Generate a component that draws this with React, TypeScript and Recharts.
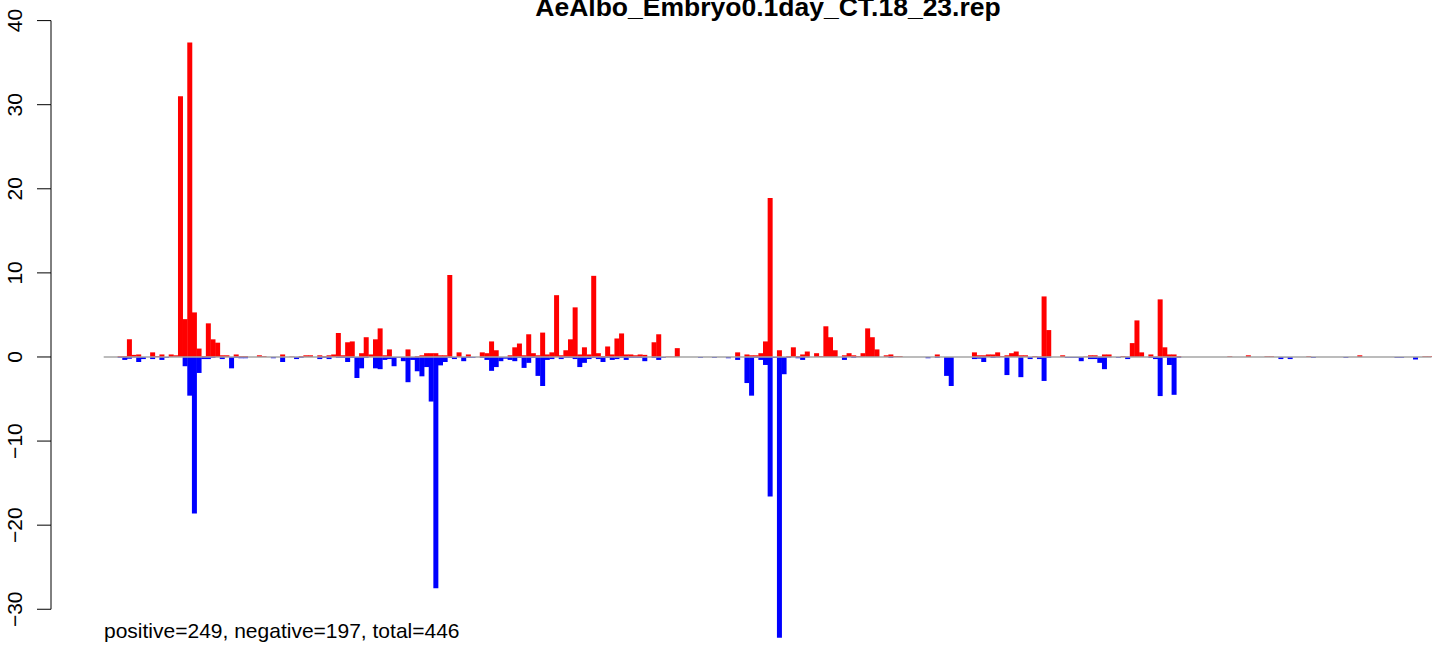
import { BarChart, Bar, XAxis, YAxis, ReferenceLine } from 'recharts';

// positive (red) and negative (blue) value per position
const pos = [
  0, 0, 0, 0.1, 0.1, 2.1, 0.25, 0.3, 0, 0,
  0.55, 0.1, 0.3, 0, 0.3, 0.2, 31, 4.5, 37.4, 5.3,
  1.0, 0.1, 4.0, 2.1, 1.7, 0.2, 0.2, 0, 0.3, 0.1,
  0.1, 0, 0, 0.2, 0.1, 0, 0, 0, 0.3, 0,
  0.05, 0, 0.1, 0.2, 0.2, 0, 0.2, 0.1, 0.2, 0.3,
  2.85, 0.2, 1.75, 1.85, 0, 0.45, 2.35, 0.3, 2.1, 3.4,
  0.2, 0.9, 0, 0, 0, 0.9, 0, 0.1, 0.2, 0.45,
  0.45, 0.45, 0.2, 0.2, 9.75, 0, 0.55, 0, 0.3, 0,
  0, 0.55, 0.45, 1.85, 0.8, 0, 0, 0.2, 1.15, 1.6,
  0.2, 2.7, 0.45, 0.2, 2.9, 0.3, 0.55, 7.35, 0.2, 0.8,
  2.1, 5.9, 0.3, 1.15, 0.3, 9.65, 0.45, 0.1, 1.25, 0.3,
  2.2, 2.8, 0.3, 0.3, 0.2, 0.3, 0.25, 0, 1.75, 2.7,
  0, 0.05, 0.05, 1.05, 0, 0, 0, 0, 0, 0,
  0, 0, 0, 0, 0, 0, 0.55, 0, 0.3, 0.2,
  0.2, 0.45, 1.85, 18.9, 0, 0.8, 0, 0.1, 1.15, 0.1,
  0.3, 0.65, 0, 0.45, 0.1, 3.65, 2.35, 0.8, 0, 0.2,
  0.45, 0.2, 0.1, 0.45, 3.4, 2.35, 0.9, 0, 0.2, 0.3,
  0.1, 0.1, 0, 0, 0, 0, 0, 0, 0, 0.3,
  0, 0, 0, 0, 0, 0, 0, 0.55, 0.2, 0.2,
  0.3, 0.3, 0.55, 0.1, 0.2, 0.45, 0.65, 0.2, 0.2, 0,
  0.1, 0.05, 7.2, 3.2, 0, 0, 0.2, 0, 0, 0,
  0, 0.05, 0.2, 0.2, 0.05, 0.3, 0.3, 0, 0, 0.1,
  0.05, 1.65, 4.35, 0.55, 0, 0.3, 0.05, 6.85, 1.15, 0.3,
  0.3, 0.1, 0, 0, 0, 0, 0, 0, 0, 0,
  0, 0, 0.08, 0, 0, 0, 0.2, 0, 0, 0,
  0.08, 0.08, 0, 0, 0, 0, 0, 0, 0, 0.08,
  0, 0, 0, 0, 0, 0, 0, 0, 0, 0,
  0.2, 0, 0, 0, 0, 0, 0, 0, 0, 0,
  0, 0, 0, 0, 0.08, 0.08,
];

const neg = [
  0, 0, 0, -0.1, -0.35, -0.2, -0.05, -0.6, -0.25, 0,
  -0.25, 0, -0.35, -0.1, 0, 0, 0, -1.1, -4.6, -18.6,
  -1.9, -0.25, -0.25, -0.1, 0, -0.25, 0, -1.35, -0.1, -0.15,
  -0.15, 0, 0, 0, 0, 0, -0.15, 0, -0.6, 0,
  0, -0.25, -0.1, 0, 0, 0, -0.25, -0.1, -0.25, 0,
  -0.1, -0.1, -0.6, -0.1, -2.5, -1.35, -0.1, 0, -1.35, -1.45,
  -0.35, -0.25, -1.1, -0.1, -0.5, -3.0, -0.35, -1.7, -2.3, -1.2,
  -5.3, -27.5, -1.0, -0.6, -0.1, -0.25, 0, -0.5, -0.1, -0.1,
  0, -0.1, -0.35, -1.65, -1.2, -0.5, -0.2, -0.35, -0.5, -0.1,
  -1.3, -0.7, -0.1, -2.25, -3.45, -0.35, -0.25, 0, -0.25, -0.1,
  -0.1, -0.25, -1.2, -0.7, -0.25, -0.1, -0.25, -0.6, -0.1, -0.35,
  -0.25, -0.1, -0.35, -0.1, -0.1, -0.1, -0.5, 0, -0.1, -0.35,
  -0.1, 0, 0, 0, 0, 0, 0, 0, -0.1, 0,
  0, -0.1, 0, 0, -0.15, 0, -0.35, 0, -3.1, -4.6,
  -0.1, -0.35, -0.95, -16.6, -0.1, -33.4, -2.05, -0.1, 0, -0.15,
  -0.35, -0.05, 0, 0, 0, 0, 0, 0, 0, -0.35,
  0, -0.1, 0, 0, 0, 0, 0, 0, 0, -0.1,
  0, 0, 0, 0, 0, 0, 0, -0.15, 0, -0.1,
  0, -2.25, -3.45, 0, 0, 0, 0, -0.25, -0.2, -0.6,
  0, -0.1, -0.05, 0, -2.15, 0, 0, -2.4, 0, -0.25,
  0, -0.25, -2.85, -0.1, 0, 0, 0, -0.1, -0.1, -0.1,
  -0.5, 0, -0.25, -0.25, -0.7, -1.45, -0.05, 0, -0.1, 0,
  -0.25, 0, 0, 0, 0, -0.1, -0.25, -4.65, -0.05, -0.95,
  -4.5, -0.1, 0, 0, 0, 0, 0, 0, 0, 0,
  0, 0, 0, 0, 0, 0, 0, 0, 0, 0,
  0, 0, 0, -0.25, -0.05, -0.25, 0, 0, 0, 0,
  -0.1, 0, 0, 0, 0, 0, 0, -0.1, 0, 0,
  0, 0, 0, 0, 0, 0, 0, 0, -0.1, -0.1,
  0, 0, -0.3, 0, 0, 0,
];

const yTicks = [-30, -20, -10, 0, 10, 20, 30, 40];
const title = 'AeAlbo_Embryo0.1day_CT.18_23.rep';
const footer = 'positive=249, negative=197, total=446';

const W = 1433;
const H = 645;
const Y_MIN = -34.25;
const Y_MAX = 42.45;
const AXIS_W = 103.7;
const FONT = '"Liberation Sans", Arial, Helvetica, sans-serif';

const data = pos.map((p, i) => ({ position: i + 1, up: p, down: neg[i] }));

function YTick(props: any) {
  const { y, payload } = props;
  const step = (H * 10) / (Y_MAX - Y_MIN);
  const v = payload.value;
  const label = v < 0 ? '\u2212' + Math.abs(v) : String(v);
  return (
    <g>
      <line x1={37} x2={51} y1={y} y2={y} stroke="#000" strokeWidth={1} />
      {v > yTicks[0] && <line x1={51} x2={51} y1={y} y2={y + step} stroke="#000" strokeWidth={1} />}
      <text x={22} y={y} transform={`rotate(-90 22 ${y})`} textAnchor="middle"
        fontSize={21} fontFamily={FONT} fill="#000">{label}</text>
    </g>
  );
}

export default function App() {
  return (
    <div style={{ position: 'absolute', left: 0, top: 0, width: W, height: H, background: '#fff' }}>
      <BarChart width={W} height={H} data={data} stackOffset="sign" barCategoryGap={0} barGap={0}
        margin={{ top: 0, right: 1.4, bottom: 0, left: 0 }}>
        <XAxis dataKey="position" hide />
        <YAxis type="number" domain={[Y_MIN, Y_MAX]} allowDataOverflow ticks={yTicks} width={AXIS_W}
          axisLine={false} tickLine={false} tick={(p: any) => <YTick {...p} />} />
        <ReferenceLine y={0} stroke="#a6a6a6" strokeWidth={1.5} />
        <Bar dataKey="up" stackId="s" fill="#ff0000" isAnimationActive={false} />
        <Bar dataKey="down" stackId="s" fill="#0000ff" isAnimationActive={false} />
      </BarChart>
      <svg width={W} height={H} style={{ position: 'absolute', left: 0, top: 0, pointerEvents: 'none' }}>
        <text x={768} y={16} textAnchor="middle" fontSize={26.5} fontWeight="bold" fontFamily={FONT}>{title}</text>
        <text x={104} y={638} fontSize={21} fontFamily={FONT}>{footer}</text>
      </svg>
    </div>
  );
}
